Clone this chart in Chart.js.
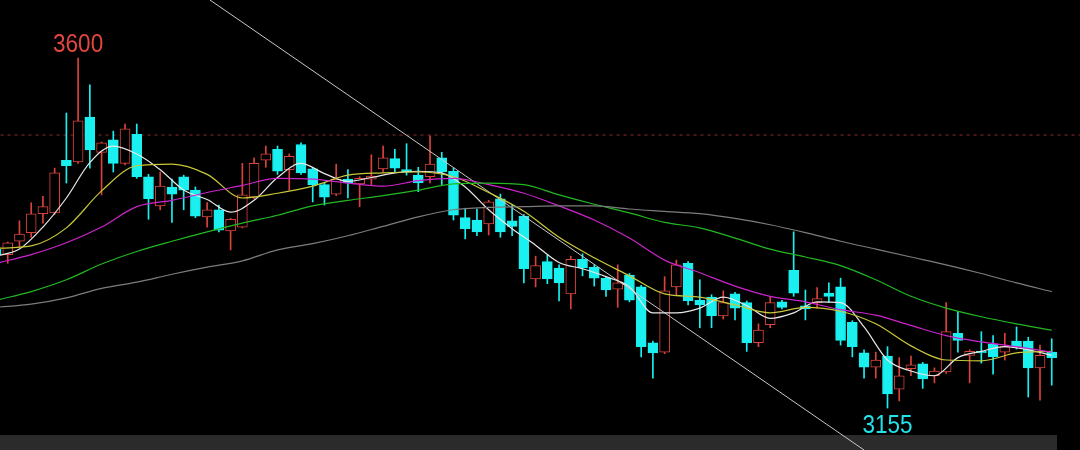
<!DOCTYPE html>
<html><head><meta charset="utf-8">
<script src="https://cdn.jsdelivr.net/npm/chart.js@4.4.1/dist/chart.umd.min.js"></script>
<style>html,body{margin:0;padding:0;background:#000;overflow:hidden}canvas{display:block}</style>
</head><body>
<canvas id="c" width="1080" height="450"></canvas>
<script>
// ---- candle data (index 0..90) ----
const opens  = [3357,3350,3367,3378,3402,3403,3470,3468,3525,3480,3496,3466,3503,3449,3412,3436,3449,3432,3398,3407,3380,3385,3423,3470,3484,3458,3490,3459,3439,3427,3446,3440,3446,3459,3472,3458,3451,3449,3473,3456,3397,3394,3389,3421,3393,3399,3319,3341,3333,3300,3344,3334,3320,3306,3324,3309,3238,3226,3309,3339,3292,3296,3272,3300,3289,3238,3261,3290,3330,3285,3289,3301,3309,3264,3225,3207,3221,3179,3205,3211,3196,3201,3250,3222,3227,3236,3226,3240,3240,3206,3226];
const highs  = [3361,3366,3393,3416,3424,3460,3530,3600,3566,3493,3507,3516,3516,3452,3455,3446,3451,3436,3416,3413,3396,3466,3473,3488,3488,3478,3492,3461,3442,3465,3458,3449,3477,3488,3484,3491,3461,3501,3480,3460,3409,3408,3419,3427,3413,3401,3348,3350,3337,3348,3351,3337,3322,3337,3326,3311,3240,3322,3343,3341,3318,3299,3304,3302,3291,3262,3297,3292,3379,3305,3308,3314,3320,3266,3229,3226,3233,3219,3221,3213,3206,3289,3278,3229,3252,3247,3250,3258,3245,3235,3243];
const lows   = [3343,3339,3360,3372,3390,3401,3441,3466,3460,3426,3455,3464,3447,3395,3407,3391,3407,3397,3385,3379,3356,3384,3421,3461,3452,3432,3452,3417,3413,3425,3422,3411,3439,3455,3454,3451,3430,3441,3439,3394,3370,3374,3375,3372,3374,3314,3309,3313,3291,3281,3323,3310,3297,3283,3290,3220,3193,3224,3299,3286,3257,3257,3268,3267,3227,3233,3257,3281,3297,3267,3282,3289,3235,3220,3193,3193,3155,3164,3196,3180,3187,3199,3226,3187,3212,3198,3216,3230,3169,3165,3184];
const closes = [3350,3365,3376,3402,3411,3454,3463,3520,3483,3492,3466,3510,3449,3421,3437,3427,3432,3399,3407,3381,3395,3426,3466,3478,3456,3475,3454,3439,3423,3446,3441,3447,3450,3473,3460,3455,3441,3465,3455,3400,3383,3379,3417,3379,3386,3332,3336,3319,3314,3344,3333,3320,3305,3314,3292,3233,3225,3304,3337,3291,3286,3272,3289,3282,3238,3254,3289,3283,3301,3281,3294,3297,3241,3233,3207,3216,3173,3196,3210,3192,3202,3252,3241,3227,3225,3220,3233,3233,3206,3222,3219];

// ---- moving averages ----
const idx2 = [0,2,4,6,8,10,12,14,16,18,20,22,24,26,28,30,32,34,36,38,40,42,44,46,48,50,52,54,56,58,60,62,64,66,68,70,72,74,76,78,80,82,84,86,88,90];
const idx3 = [0,3,6,9,12,15,18,21,24,27,30,33,36,39,42,45,48,51,54,57,60,63,66,69,72,75,78,81,84,87,90];
const ma5   = [3348,3357,3385,3422,3467,3488,3478,3458,3432,3420,3404,3419,3448,3466,3453,3443,3448,3454,3456,3454,3436,3407,3383,3362,3340,3332,3322,3309,3276,3276,3282,3296,3285,3269,3276,3290,3289,3258,3216,3202,3196,3219,3227,3233,3229,3222];
const ma10  = [3358,3361,3384,3431,3463,3465,3452,3422,3428,3437,3451,3454,3455,3449,3429,3405,3372,3346,3323,3300,3296,3286,3276,3283,3278,3262,3234,3216,3215,3225,3227];
const ma20  = [3339,3350,3365,3385,3411,3419,3429,3438,3447,3446,3441,3437,3444,3447,3439,3428,3412,3394,3371,3343,3327,3310,3297,3290,3280,3273,3260,3247,3239,3233,3226];
const ma60  = [3292,3303,3318,3338,3354,3367,3379,3390,3400,3412,3419,3425,3432,3440,3441,3439,3426,3414,3403,3391,3384,3371,3357,3347,3336,3318,3297,3282,3271,3262,3254];
const ma120 = [3283,3287,3295,3307,3315,3325,3334,3342,3356,3364,3374,3386,3398,3407,3410,3411,3412,3412,3408,3405,3402,3396,3388,3378,3367,3357,3347,3337,3326,3314,3303];

// ---- reference / drawing lines ----
const refLevel = 3502;
const trendIdx = [18.24, 74.0];
const trendVal = [3673.7, 3101.6];
const peakLabel = '3600';
const troughLabel = '3155';

const RED = '#d9433c', CYAN = '#1af0f0';
const idx = opens.map((_, i) => i);
const isUp = i => closes[i] >= opens[i];
const candleColor = ctx => isUp(ctx.dataIndex) ? RED : CYAN;

const wickData = idx.map(i => ({x: i, y: [lows[i], highs[i]]}));
const bodyData = idx.map(i => ({x: i, y: [Math.min(opens[i], closes[i]), Math.max(opens[i], closes[i])]}));
const pts = (xs, ys) => xs.map((x, k) => ({x: x, y: ys[k]}));

const lineDs = (label, xs, ys, color) => ({
  type: 'line', label, data: pts(xs, ys), borderColor: color, borderWidth: 1.2,
  pointRadius: 0, cubicInterpolationMode: 'monotone', order: 0
});

const deco = {
  id: 'deco',
  beforeDraw(chart) {
    const c = chart.ctx;
    c.save();
    c.fillStyle = '#000';
    c.fillRect(0, 0, chart.width, chart.height);
    c.fillStyle = '#2b2b2b';
    c.fillRect(0, 435, 1057, 15);
    c.restore();
  },
  afterDatasetsDraw(chart) {
    const c = chart.ctx, xs = chart.scales.x, ys = chart.scales.y;
    const pi = highs.indexOf(Math.max(...highs));
    const ti = lows.indexOf(Math.min(...lows));
    c.save();
    c.font = '25px "Liberation Sans", Arial, sans-serif';
    c.textAlign = 'center';
    c.textBaseline = 'alphabetic';
    const draw = (txt, px, py, col) => {
      c.save(); c.translate(px, py); c.scale(0.9, 1);
      c.fillStyle = col; c.fillText(txt, 0, 0); c.restore();
    };
    draw(peakLabel, xs.getPixelForValue(pi), ys.getPixelForValue(highs[pi]) - 6, '#e2463f');
    draw(troughLabel, xs.getPixelForValue(ti), ys.getPixelForValue(lows[ti]) + 25, '#22e2ea');
    c.restore();
  }
};

new Chart(document.getElementById('c'), {
  type: 'bar',
  data: {
    datasets: [
      { type: 'line', label: 'ref', data: [{x: -2, y: refLevel}, {x: 95, y: refLevel}],
        borderColor: '#8c2a2a', borderWidth: 1, borderDash: [3, 4], pointRadius: 0, order: 3 },
      { label: 'wick', data: wickData, backgroundColor: candleColor, borderWidth: 0,
        barThickness: 1, grouped: false, order: 2 },
      { label: 'body', data: bodyData, backgroundColor: ctx => isUp(ctx.dataIndex) ? '#000' : CYAN,
        borderColor: candleColor, borderWidth: 1, borderSkipped: false,
        barThickness: 10, grouped: false, order: 1 },
      lineDs('MA120', idx3, ma120, '#7c7c7c'),
      lineDs('MA60', idx3, ma60, '#22b822'),
      lineDs('MA20', idx3, ma20, '#cc24cc'),
      lineDs('MA10', idx3, ma10, '#c8c83a'),
      lineDs('MA5', idx2, ma5, '#e8e8e8'),
      { type: 'line', label: 'trend', data: pts(trendIdx, trendVal), borderColor: '#c8c8c8',
        borderWidth: 1, pointRadius: 0, order: 0 }
    ]
  },
  options: {
    responsive: false,
    animation: false,
    layout: { padding: 0 },
    plugins: { legend: { display: false }, tooltip: { enabled: false } },
    scales: {
      x: { type: 'linear', min: 0.341, max: 92.41, offset: false, display: false },
      y: { type: 'linear', min: 3101.6, max: 3673.7, display: false }
    }
  },
  plugins: [deco]
});
</script>
</body></html>
